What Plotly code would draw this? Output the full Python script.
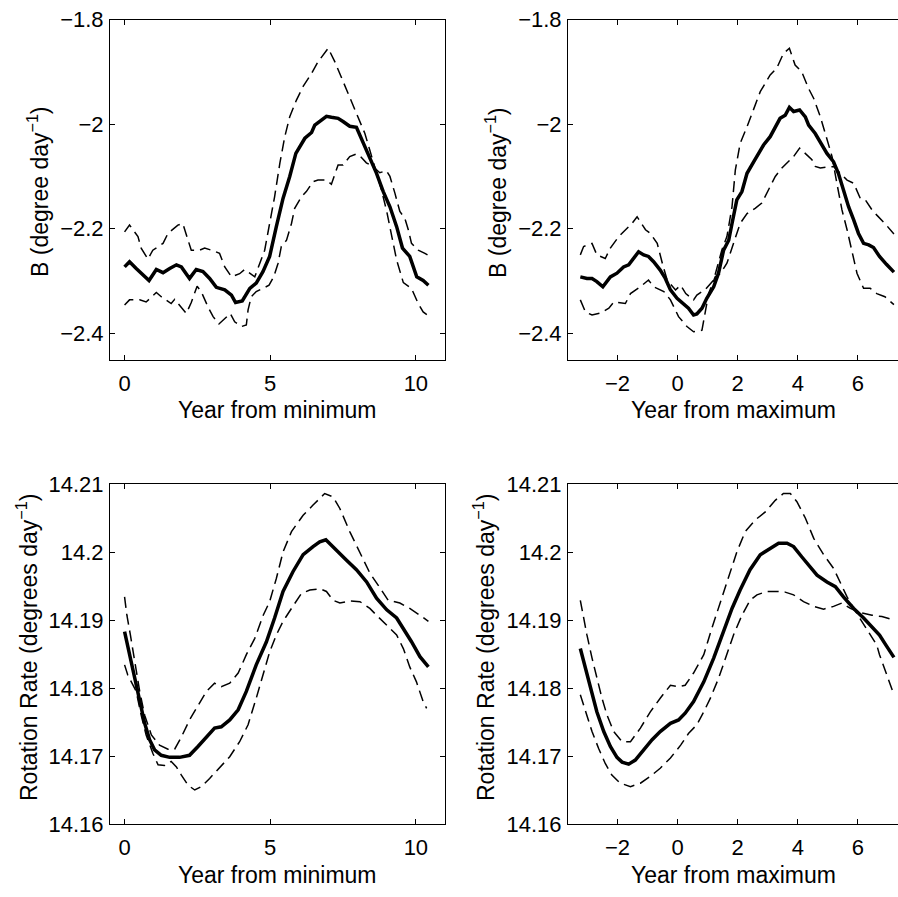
import plotly.graph_objects as go

# ---------------- data ----------------
# Top-left: B vs year from minimum
tl_x_solid = [0, 0.17, 0.4, 0.63, 0.84, 1.09, 1.32, 1.55, 1.78, 1.95, 2.23, 2.46, 2.69, 2.92, 3.15, 3.44, 3.67, 3.81, 4.04, 4.3, 4.52, 4.75, 4.98, 5.21, 5.44, 5.67, 5.88, 6.19, 6.42, 6.53, 6.7, 6.93, 7.1, 7.33, 7.5, 7.73, 7.96, 8.19, 8.42, 8.65, 8.88, 9.11, 9.34, 9.54, 9.79, 10.03, 10.25, 10.43]
tl_solid = [-2.273, -2.263, -2.276, -2.288, -2.299, -2.278, -2.284, -2.276, -2.269, -2.273, -2.295, -2.278, -2.282, -2.295, -2.312, -2.317, -2.327, -2.341, -2.338, -2.314, -2.304, -2.282, -2.253, -2.196, -2.142, -2.100, -2.056, -2.027, -2.016, -2.002, -1.995, -1.985, -1.987, -1.989, -1.995, -2.004, -2.006, -2.034, -2.062, -2.094, -2.129, -2.158, -2.196, -2.237, -2.253, -2.292, -2.299, -2.308]
tl_x_upper = [0, 0.17, 0.46, 0.57, 0.8, 0.97, 1.32, 1.49, 1.83, 2.0, 2.18, 2.29, 2.58, 2.75, 3.04, 3.26, 3.44, 3.67, 3.95, 4.12, 4.47, 4.81, 4.98, 5.15, 5.33, 5.5, 5.67, 5.9, 6.13, 6.42, 6.64, 6.99, 7.22, 7.5, 7.73, 8.02, 8.25, 8.42, 8.59, 8.82, 9.0, 9.17, 9.34, 9.57, 9.85, 10.08, 10.25, 10.4]
tl_upper = [-2.206, -2.193, -2.215, -2.237, -2.258, -2.241, -2.228, -2.209, -2.193, -2.190, -2.222, -2.241, -2.241, -2.237, -2.242, -2.247, -2.273, -2.292, -2.286, -2.278, -2.292, -2.241, -2.190, -2.139, -2.075, -2.024, -1.986, -1.954, -1.928, -1.903, -1.881, -1.855, -1.881, -1.919, -1.948, -1.986, -2.018, -2.05, -2.081, -2.126, -2.167, -2.215, -2.260, -2.303, -2.314, -2.343, -2.359, -2.365]
tl_x_lower = [0, 0.17, 0.52, 0.74, 1.09, 1.26, 1.6, 1.72, 2.12, 2.29, 2.49, 2.63, 2.86, 3.04, 3.24, 3.38, 3.63, 3.78, 4.01, 4.18, 4.24, 4.35, 4.52, 4.75, 4.96, 5.12, 5.27, 5.38, 5.56, 5.73, 5.84, 6.07, 6.24, 6.47, 6.64, 6.93, 7.1, 7.33, 7.5, 7.73, 7.96, 8.1, 8.3, 8.53, 8.76, 8.99, 9.11, 9.28, 9.45, 9.62, 9.74, 9.85, 10.08, 10.31, 10.4]
tl_lower = [-2.346, -2.336, -2.336, -2.340, -2.322, -2.330, -2.343, -2.335, -2.362, -2.341, -2.310, -2.320, -2.349, -2.368, -2.382, -2.375, -2.362, -2.378, -2.387, -2.384, -2.355, -2.330, -2.320, -2.314, -2.308, -2.292, -2.266, -2.234, -2.222, -2.190, -2.161, -2.139, -2.129, -2.110, -2.107, -2.107, -2.115, -2.078, -2.078, -2.062, -2.057, -2.062, -2.074, -2.081, -2.093, -2.089, -2.100, -2.132, -2.167, -2.180, -2.202, -2.228, -2.241, -2.247, -2.250]

# Top-right: B vs year from maximum
tr_x_solid = [-3.24, -3.02, -2.85, -2.69, -2.49, -2.24, -2.02, -1.8, -1.63, -1.47, -1.3, -1.13, -0.97, -0.8, -0.58, -0.41, -0.24, -0.02, 0.2, 0.36, 0.53, 0.64, 0.81, 0.97, 1.2, 1.36, 1.53, 1.7, 1.81, 1.97, 2.14, 2.31, 2.53, 2.69, 2.86, 3.08, 3.25, 3.41, 3.58, 3.72, 3.86, 4.06, 4.25, 4.36, 4.58, 4.74, 4.97, 5.19, 5.35, 5.52, 5.69, 5.86, 6.02, 6.19, 6.36, 6.52, 6.72, 6.95, 7.2]
tr_solid = [-2.292, -2.295, -2.295, -2.301, -2.311, -2.292, -2.285, -2.273, -2.269, -2.257, -2.244, -2.250, -2.253, -2.263, -2.279, -2.295, -2.317, -2.333, -2.343, -2.352, -2.365, -2.363, -2.352, -2.333, -2.311, -2.285, -2.241, -2.222, -2.190, -2.145, -2.129, -2.094, -2.072, -2.057, -2.040, -2.024, -2.005, -1.989, -1.983, -1.968, -1.976, -1.973, -1.986, -2.002, -2.018, -2.034, -2.056, -2.072, -2.094, -2.126, -2.158, -2.183, -2.209, -2.228, -2.231, -2.236, -2.253, -2.268, -2.283]
tr_x_upper = [-3.24, -3.13, -2.85, -2.69, -2.41, -2.24, -1.96, -1.74, -1.52, -1.35, -1.07, -0.91, -0.68, -0.51, -0.35, -0.07, 0.1, 0.27, 0.53, 0.64, 0.92, 1.2, 1.47, 1.64, 1.81, 1.92, 2.08, 2.31, 2.53, 2.75, 3.08, 3.3, 3.52, 3.72, 3.91, 4.13, 4.36, 4.53, 4.75, 4.97, 5.14, 5.3, 5.47, 5.64, 5.8, 5.97, 6.19, 6.41, 6.63, 6.9, 7.2]
tr_upper = [-2.250, -2.234, -2.228, -2.250, -2.257, -2.237, -2.215, -2.202, -2.190, -2.177, -2.202, -2.209, -2.228, -2.266, -2.298, -2.317, -2.308, -2.324, -2.336, -2.327, -2.316, -2.298, -2.241, -2.215, -2.158, -2.088, -2.037, -2.005, -1.970, -1.938, -1.906, -1.893, -1.865, -1.855, -1.887, -1.900, -1.932, -1.951, -1.986, -2.027, -2.062, -2.113, -2.164, -2.202, -2.241, -2.285, -2.314, -2.314, -2.324, -2.33, -2.345]
tr_x_lower = [-3.24, -3.07, -2.85, -2.57, -2.29, -2.12, -1.74, -1.57, -1.24, -0.97, -0.8, -0.46, -0.24, 0.03, 0.31, 0.53, 0.81, 0.92, 1.03, 1.25, 1.42, 1.64, 1.86, 2.08, 2.31, 2.58, 2.8, 3.03, 3.25, 3.47, 3.69, 3.86, 4.06, 4.19, 4.47, 4.58, 4.75, 4.97, 5.19, 5.41, 5.64, 5.86, 6.08, 6.25, 6.47, 6.63, 6.9, 7.2]
tr_lower = [-2.336, -2.359, -2.365, -2.361, -2.352, -2.340, -2.343, -2.324, -2.311, -2.298, -2.311, -2.320, -2.336, -2.368, -2.387, -2.397, -2.394, -2.355, -2.324, -2.292, -2.286, -2.266, -2.228, -2.190, -2.171, -2.161, -2.151, -2.126, -2.100, -2.084, -2.072, -2.062, -2.046, -2.053, -2.068, -2.081, -2.084, -2.082, -2.081, -2.094, -2.107, -2.113, -2.142, -2.145, -2.164, -2.174, -2.19, -2.21]

# Bottom-left: rotation rate vs year from minimum
bl_x_solid = [0, 0.17, 0.34, 0.52, 0.69, 0.86, 1.03, 1.26, 1.55, 1.89, 2.23, 2.52, 2.81, 3.09, 3.32, 3.61, 3.9, 4.18, 4.52, 4.87, 5.15, 5.44, 5.78, 6.13, 6.47, 6.7, 6.91, 7.1, 7.39, 7.62, 7.96, 8.31, 8.65, 9.0, 9.34, 9.57, 9.85, 10.14, 10.43]
bl_solid = [14.1883, 14.1849, 14.1814, 14.178, 14.1748, 14.1724, 14.1709, 14.1701, 14.1698, 14.1698, 14.1701, 14.1714, 14.1728, 14.1741, 14.1743, 14.1753, 14.1768, 14.1795, 14.1834, 14.1868, 14.1903, 14.1942, 14.1971, 14.1996, 14.2008, 14.2015, 14.2018, 14.201, 14.1996, 14.1988, 14.1974, 14.1956, 14.1932, 14.1915, 14.1903, 14.1888, 14.1868, 14.1846, 14.1831]
bl_x_upper = [0, 0.08, 0.2, 0.34, 0.52, 0.69, 0.92, 1.2, 1.49, 1.72, 1.95, 2.23, 2.52, 2.81, 3.09, 3.32, 3.61, 3.9, 4.18, 4.47, 4.76, 4.98, 5.21, 5.44, 5.73, 6.13, 6.47, 6.87, 7.16, 7.39, 7.73, 8.08, 8.42, 8.77, 9.05, 9.45, 9.79, 10.14, 10.43]
bl_upper = [14.1934, 14.1907, 14.1878, 14.1839, 14.1795, 14.176, 14.1731, 14.1716, 14.1710, 14.1710, 14.1728, 14.1753, 14.1775, 14.1795, 14.1807, 14.1802, 14.1807, 14.1822, 14.1849, 14.1873, 14.1907, 14.1927, 14.1961, 14.2000, 14.2030, 14.2054, 14.2069, 14.2086, 14.2081, 14.2064, 14.2030, 14.2000, 14.1969, 14.1947, 14.1929, 14.1925, 14.1917, 14.1907, 14.1898]
bl_x_lower = [0, 0.11, 0.4, 0.57, 0.74, 0.97, 1.15, 1.37, 1.6, 1.78, 1.95, 2.18, 2.41, 2.64, 2.92, 3.26, 3.61, 3.95, 4.24, 4.52, 4.75, 4.98, 5.21, 5.44, 5.73, 6.07, 6.36, 6.7, 6.93, 7.16, 7.39, 7.73, 8.08, 8.42, 8.65, 9.0, 9.34, 9.57, 9.79, 10.02, 10.25, 10.37]
bl_lower = [14.1834, 14.1819, 14.1795, 14.176, 14.1731, 14.1704, 14.1687, 14.1686, 14.1692, 14.1684, 14.1672, 14.1657, 14.165, 14.1655, 14.1667, 14.1682, 14.1699, 14.1721, 14.1746, 14.1785, 14.1819, 14.1853, 14.1878, 14.1898, 14.1917, 14.1939, 14.1944, 14.1946, 14.1942, 14.1929, 14.1925, 14.1928, 14.1927, 14.1917, 14.1907, 14.1893, 14.1878, 14.1858, 14.1831, 14.1809, 14.178, 14.177]

# Bottom-right: rotation rate vs year from maximum
br_x_solid = [-3.24, -3.07, -2.91, -2.69, -2.46, -2.24, -2.02, -1.85, -1.63, -1.41, -1.13, -0.85, -0.58, -0.24, 0.03, 0.25, 0.53, 0.87, 1.2, 1.53, 1.81, 2.08, 2.41, 2.75, 3.08, 3.36, 3.64, 3.86, 4.13, 4.41, 4.64, 4.97, 5.25, 5.52, 5.86, 6.19, 6.47, 6.72, 6.95, 7.2]
br_solid = [14.1858, 14.1829, 14.1800, 14.1765, 14.1736, 14.1714, 14.1698, 14.1691, 14.1688, 14.1694, 14.1709, 14.1724, 14.1736, 14.1748, 14.1753, 14.1763, 14.178, 14.1809, 14.1844, 14.1883, 14.1917, 14.1944, 14.1974, 14.1996, 14.2006, 14.2013, 14.2013, 14.2008, 14.1993, 14.1978, 14.1966, 14.1956, 14.1949, 14.1934, 14.1917, 14.1903, 14.1890, 14.1878, 14.1862, 14.1845]
br_x_upper = [-3.24, -3.13, -3.02, -2.85, -2.69, -2.52, -2.35, -2.13, -1.85, -1.57, -1.24, -0.91, -0.58, -0.24, 0.03, 0.25, 0.53, 0.87, 1.14, 1.42, 1.7, 1.97, 2.25, 2.58, 2.92, 3.25, 3.52, 3.75, 3.97, 4.25, 4.53, 4.86, 5.19, 5.41, 5.64, 5.86, 6.13, 6.36, 6.63, 6.72, 6.95, 7.2]
br_upper = [14.1929, 14.1903, 14.1878, 14.1844, 14.1814, 14.1785, 14.176, 14.1736, 14.1721, 14.1721, 14.1741, 14.1765, 14.1785, 14.1804, 14.1802, 14.1804, 14.1822, 14.1849, 14.1888, 14.1927, 14.1966, 14.2000, 14.2030, 14.2047, 14.2059, 14.2076, 14.2086, 14.2086, 14.2074, 14.2050, 14.2020, 14.1996, 14.1976, 14.1956, 14.1934, 14.1917, 14.1898, 14.1883, 14.1863, 14.1849, 14.1820, 14.179]
br_x_lower = [-3.24, -3.07, -2.85, -2.63, -2.41, -2.19, -1.91, -1.57, -1.24, -0.91, -0.58, -0.24, 0.1, 0.36, 0.64, 0.87, 1.09, 1.36, 1.64, 1.86, 2.14, 2.41, 2.64, 2.97, 3.3, 3.58, 3.86, 4.19, 4.53, 4.86, 5.19, 5.47, 5.75, 6.08, 6.47, 6.8, 7.2]
br_lower = [14.179, 14.1765, 14.1736, 14.1711, 14.1689, 14.1672, 14.166, 14.1655, 14.166, 14.167, 14.1682, 14.1697, 14.1716, 14.1733, 14.1746, 14.1765, 14.1785, 14.1814, 14.1849, 14.1878, 14.1907, 14.1929, 14.1937, 14.1942, 14.1942, 14.1941, 14.1937, 14.1927, 14.192, 14.1916, 14.192, 14.1925, 14.1917, 14.1911, 14.1907, 14.1905, 14.190]

# tick values / labels
x_min_ticks = [0, 5, 10]
x_min_labels = ["0", "5", "10"]
x_max_ticks = [-2, 0, 2, 4, 6]
x_max_labels = ["\u22122", "0", "2", "4", "6"]
b_ticks = [-2.4, -2.2, -2.0, -1.8]
b_labels = ["\u22122.4", "\u22122.2", "\u22122", "\u22121.8"]
rot_ticks = [14.16, 14.17, 14.18, 14.19, 14.20, 14.21]
rot_labels = ["14.16", "14.17", "14.18", "14.19", "14.2", "14.21"]

x_title_min = "Year from minimum"
x_title_max = "Year from maximum"
y_title_b = "B (degree day<sup>\u22121</sup>)"
y_title_rot = "Rotation Rate (degrees day<sup>\u22121</sup>)"

# ---------------- layout geometry ----------------
W, H = 898, 897
FONT = "Liberation Sans, Arial, Helvetica, sans-serif"
FS = 22
FS_T = 23

def px_x(a, b):
    return [a / W, min(b / W, 1.0)]

def px_y(top, bottom):
    return [1 - bottom / H, 1 - top / H]

dom_x_left = px_x(110, 445)
dom_x_right = px_x(568, 898)
dom_y_top = px_y(19.5, 359.5)
dom_y_bot = px_y(484, 824)

range_x_left = [-0.5, 11.0]
range_x_right = [-3.65, -3.65 + (898 - 568) / 30.04]
range_b = [-2.45, -1.8]
range_rot = [14.16, 14.21]

fig = go.Figure()

solid_line = dict(color="black", width=3.5)
dash_line = dict(color="black", width=1.5, dash="11px,6px")

panels = [
    ("x", "y", tl_x_solid, tl_solid, tl_x_upper, tl_upper, tl_x_lower, tl_lower),
    ("x2", "y2", tr_x_solid, tr_solid, tr_x_upper, tr_upper, tr_x_lower, tr_lower),
    ("x3", "y3", bl_x_solid, bl_solid, bl_x_upper, bl_upper, bl_x_lower, bl_lower),
    ("x4", "y4", br_x_solid, br_solid, br_x_upper, br_upper, br_x_lower, br_lower),
]
for xa, ya, xs, ys, xu, yu, xl, yl in panels:
    fig.add_trace(go.Scatter(x=xu, y=yu, mode="lines", line=dash_line, xaxis=xa, yaxis=ya, hoverinfo="skip"))
    fig.add_trace(go.Scatter(x=xl, y=yl, mode="lines", line=dash_line, xaxis=xa, yaxis=ya, hoverinfo="skip"))
    fig.add_trace(go.Scatter(x=xs, y=ys, mode="lines", line=solid_line, xaxis=xa, yaxis=ya, hoverinfo="skip"))

def axis(domain, rng, tv, tt, anchor, mirror="ticks", standoff=1):
    return dict(domain=domain, range=rng, anchor=anchor, tickvals=tv, ticktext=tt,
                showline=True, linecolor="black", linewidth=1, mirror=mirror,
                ticks="inside", ticklen=5, tickwidth=1, tickcolor="black",
                showgrid=False, zeroline=False, fixedrange=True, automargin=False,
                ticklabelstandoff=standoff,
                tickfont=dict(family=FONT, size=FS, color="black"))

fig.update_layout(
    width=W, height=H, autosize=False,
    margin=dict(l=0, r=0, t=0, b=0, pad=0, autoexpand=False),
    paper_bgcolor="white", plot_bgcolor="white", showlegend=False,
    xaxis=axis(dom_x_left, range_x_left, x_min_ticks, x_min_labels, "y", standoff=4),
    yaxis=axis(dom_y_top, range_b, b_ticks, b_labels, "x"),
    xaxis2=axis(dom_x_right, range_x_right, x_max_ticks, x_max_labels, "y2", standoff=4),
    yaxis2=axis(dom_y_top, range_b, b_ticks, b_labels, "x2", mirror=False),
    xaxis3=axis(dom_x_left, range_x_left, x_min_ticks, x_min_labels, "y3", standoff=4),
    yaxis3=axis(dom_y_bot, range_rot, rot_ticks, rot_labels, "x3"),
    xaxis4=axis(dom_x_right, range_x_right, x_max_ticks, x_max_labels, "y4", standoff=4),
    yaxis4=axis(dom_y_bot, range_rot, rot_ticks, rot_labels, "x4", mirror=False),
)

ann_font = dict(family=FONT, size=FS_T, color="black")
def xt(text, cx, cy):
    return dict(text=text, x=cx / W, y=1 - cy / H, xref="paper", yref="paper",
                showarrow=False, xanchor="center", yanchor="middle", font=ann_font)
def yt(text, cx, cy):
    return dict(text=text, x=cx / W, y=1 - cy / H, xref="paper", yref="paper",
                showarrow=False, xanchor="center", yanchor="middle", textangle=-90, font=ann_font)

fig.update_layout(annotations=[
    xt(x_title_min, 277.5, 875),
    xt(x_title_max, 733, 875),
    xt(x_title_min, 277.5, 410),
    xt(x_title_max, 733, 410),
    yt(y_title_b, 38, 192),
    yt(y_title_b, 496, 192),
    yt(y_title_rot, 27, 648),
    yt(y_title_rot, 484, 648),
])

fig.write_html("out.html", config={"displayModeBar": False},
               post_script="document.body.style.margin='0px';document.body.style.overflow='hidden';")
